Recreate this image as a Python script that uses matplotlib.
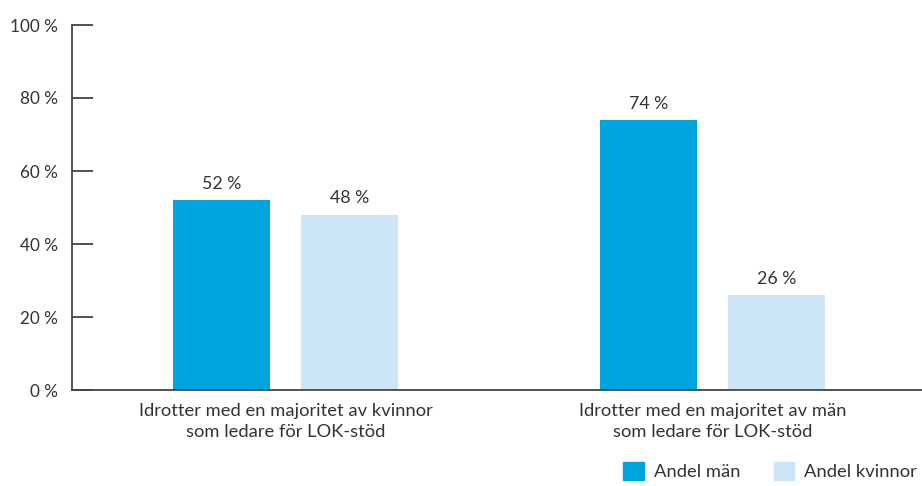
import matplotlib
matplotlib.use("Agg")
import matplotlib.pyplot as plt
import numpy as np
from matplotlib.patches import Patch

plt.rcParams['font.family'] = ['Lato', 'DejaVu Sans']

categories = ['Idrotter med en majoritet av kvinnor\nsom ledare för LOK-stöd',
              'Idrotter med en majoritet av män\nsom ledare för LOK-stöd']
andel_man = [52, 74]
andel_kvinnor = [48, 26]
series_names = ['Andel män', 'Andel kvinnor']
yticks = [0, 20, 40, 60, 80, 100]

c_man = '#00a5e0'
c_kvinnor = '#cde6f7'
txt = '#333333'

fig = plt.figure(figsize=(9.22, 4.86), dpi=100)
ax = fig.add_axes([72/922, 96/486, 850/922, 365/486])

x = np.arange(len(categories))
w = 0.227
off = 0.1499
b1 = ax.bar(x - off, andel_man, w, color=c_man)
b2 = ax.bar(x + off, andel_kvinnor, w, color=c_kvinnor)

for bars in (b1, b2):
    for b in bars:
        v = b.get_height()
        ax.annotate(f'{v:.0f} %', (b.get_x() + b.get_width()/2, v),
                    xytext=(0, 6), textcoords='offset points',
                    ha='center', va='bottom', fontsize=12.8, color=txt)

ax.set_xlim(-0.5, 1.49)
ax.set_ylim(0, 100)
ax.set_yticks(yticks)
ax.set_yticklabels([f'{t} %' for t in yticks])
ax.set_xticks(x)
ax.set_xticklabels(categories)

ax.tick_params(axis='y', direction='in', length=15, width=1.2, colors=txt,
               labelsize=12.3, pad=10)
ax.tick_params(axis='x', length=0, labelsize=13.2, colors=txt, pad=9)
for tl in ax.get_xticklabels():
    tl.set_linespacing(1.45)

# two of the inner ticks are drawn in blue
for t, tick in zip(yticks, ax.yaxis.get_major_ticks()):
    if t in (60, 80):
        tick.tick1line.set_color('#1a6fb8')

for s in ('top', 'right'):
    ax.spines[s].set_visible(False)
for s in ('left', 'bottom'):
    ax.spines[s].set_color('#444444')
    ax.spines[s].set_linewidth(1.3)

handles = [Patch(color=c_man), Patch(color=c_kvinnor)]
fig.legend(handles, series_names, loc='upper left',
           bbox_to_anchor=(616/922, 1 - 455/486), ncol=2, frameon=False,
           fontsize=13.2, handlelength=1.1, handleheight=1.1,
           handletextpad=0.55, columnspacing=1.85, labelcolor=txt,
           borderaxespad=0, borderpad=0.4)

fig.savefig('out.png', dpi=100)
